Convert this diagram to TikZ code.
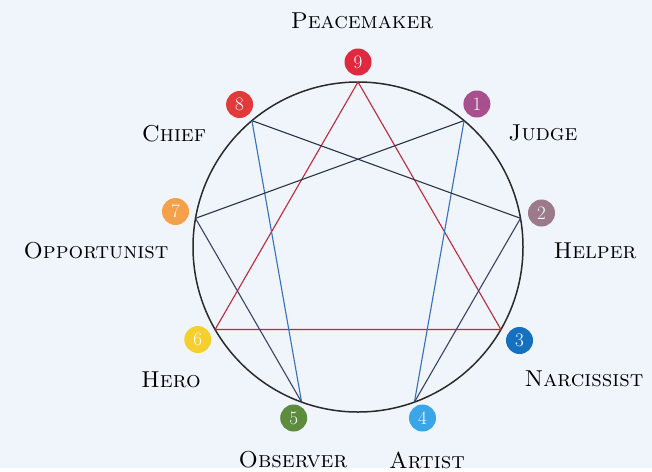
\documentclass[tikz,border=0pt]{standalone}
\usepackage{tikz}

\definecolor{paper}{HTML}{F0F5FB}
\definecolor{ringgray}{HTML}{2A2A2A}
\definecolor{trired}{HTML}{C02838}
\definecolor{hexblue}{HTML}{3470C0}
\definecolor{hexdark}{HTML}{2A3448}
\definecolor{hexslate}{HTML}{3A4268}
\definecolor{cnine}{HTML}{E0283E}
\definecolor{ceight}{HTML}{E23A3A}
\definecolor{cone}{HTML}{A8508E}
\definecolor{ctwo}{HTML}{9C7A8A}
\definecolor{cthree}{HTML}{1670C0}
\definecolor{cfour}{HTML}{3AA6E8}
\definecolor{cfive}{HTML}{5E8C3E}
\definecolor{csix}{HTML}{F5CF2E}
\definecolor{cseven}{HTML}{F5A04A}

\begin{document}
\begin{tikzpicture}[x=1pt,y=1pt,
  num/.style={circle,inner sep=0pt,minimum size=27pt,text=white,font=\fontsize{19}{19}\selectfont},
  typename/.style={font=\fontsize{23}{23}\selectfont\scshape,text=black},
  tri/.style={trired,line width=1.1pt},
  hex/.style={line width=1.1pt}]
\fill[paper] (0,0) rectangle (652,-468);

% ring and points
\coordinate (c) at (358,-247);
\draw[ringgray,line width=1.5pt] (c) circle (165pt);
\coordinate (v9) at (358,-82);
\coordinate (v1) at (464.1,-120.6);
\coordinate (v2) at (520.5,-218.3);
\coordinate (v3) at (500.9,-329.5);
\coordinate (v4) at (414.4,-402.1);
\coordinate (v5) at (301.6,-402.1);
\coordinate (v6) at (215.1,-329.5);
\coordinate (v7) at (195.5,-218.3);
\coordinate (v8) at (251.9,-120.6);

% triangle 9-3-6
\draw[tri] (v9) -- (v3) -- (v6) -- cycle;

% hexad 1-4-2-8-5-7-1
\draw[hex,hexblue] (v1) -- (v4);
\draw[hex,hexslate] (v4) -- (v2);
\draw[hex,hexdark] (v2) -- (v8);
\draw[hex,hexblue] (v8) -- (v5);
\draw[hex,hexslate] (v5) -- (v7);
\draw[hex,hexdark] (v7) -- (v1);

% numbered points
\node[num,fill=cnine] (n9) at (358,-62) {9};
\node[num,fill=cone] (n1) at (476.9,-104) {1};
\node[num,fill=ctwo] (n2) at (541.5,-213) {2};
\node[num,fill=cthree] (n3) at (519.5,-340.5) {3};
\node[num,fill=cfour] (n4) at (422.5,-418) {4};
\node[num,fill=cfive] (n5) at (293.7,-418) {5};
\node[num,fill=csix] (n6) at (197.8,-339.5) {6};
\node[num,fill=cseven] (n7) at (175.5,-211.5) {7};
\node[num,fill=ceight] (n8) at (239.6,-104.5) {8};

% names
\node[typename] (peacemaker) at (362,-21) {Peacemaker};
\node[typename] (judge) at (543,-133) {Judge};
\node[typename] (helper) at (595,-251) {Helper};
\node[typename] (narcissist) at (584,-379) {Narcissist};
\node[typename] (artist) at (427,-460) {Artist};
\node[typename] (observer) at (293,-460) {Observer};
\node[typename] (hero) at (171,-380) {Hero};
\node[typename] (opportunist) at (96,-251) {Opportunist};
\node[typename] (chief) at (174,-134) {Chief};
\end{tikzpicture}
\end{document}
